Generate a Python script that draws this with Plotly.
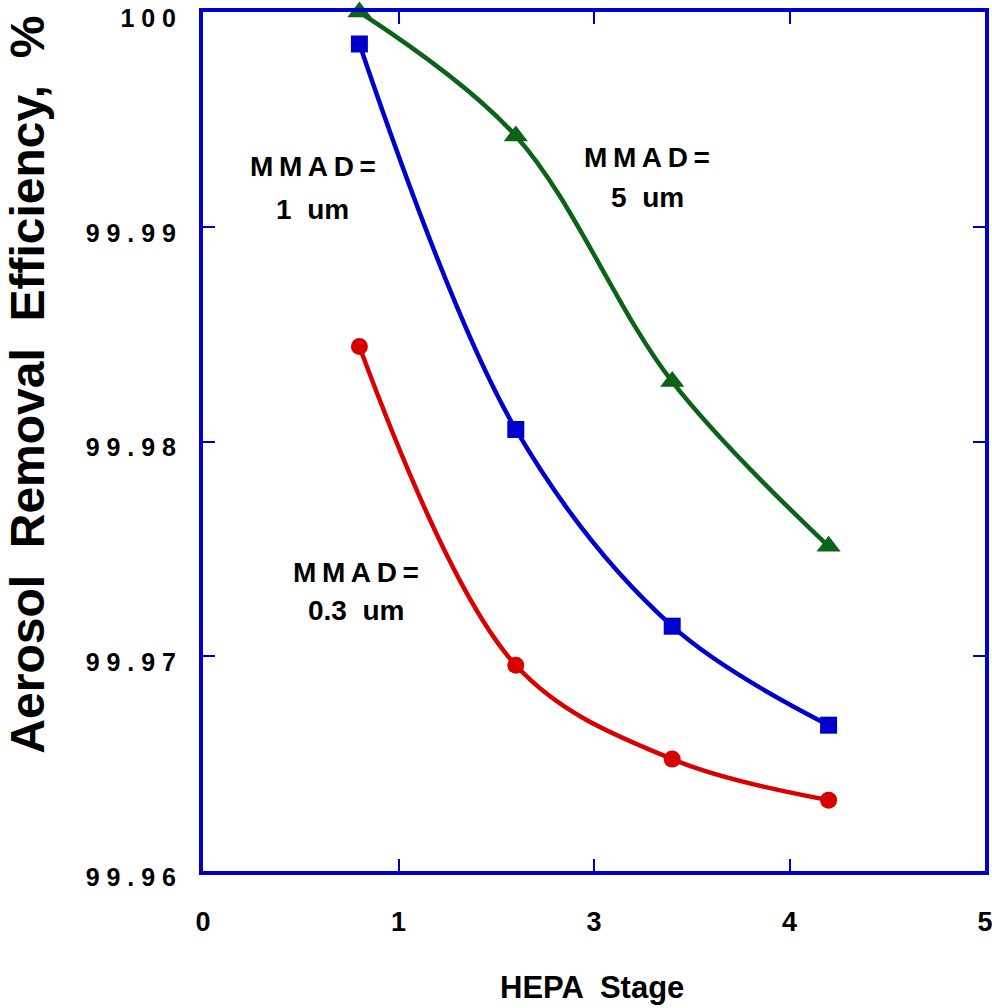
import plotly.graph_objects as go

# ---- data ----
stage_pos = [0.8, 1.6, 2.4, 3.2]
x_tickvals = [0, 1, 2, 3, 4]
x_ticktext = ["0", "1", "3", "4", "5"]
y_tickvals = [99.96, 99.97, 99.98, 99.99, 100.0]
y_ticktext = ["9 9 . 9 6", "9 9 . 9 7", "9 9 . 9 8", "9 9 . 9 9", "1 0 0"]

eff_5um = [100.0, 99.99423, 99.98279, 99.97512]
eff_1um = [99.99851, 99.98056, 99.97140, 99.96679]
eff_03um = [99.98442, 99.96958, 99.96521, 99.96330]

T = "\u2009"
mmad = T.join("MMAD=")
labels = [
    (mmad, 0.562, 99.99279),
    ("1  um", 0.562, 99.99079),
    (mmad, 2.273, 99.99321),
    ("5  um", 2.273, 99.99135),
    (mmad, 0.782, 99.97391),
    ("0.3  um", 0.782, 99.97214),
]

BLUE = "#0000CC"
GREEN = "#0C6318"
RED = "#D80000"
FONT = "Liberation Sans, Arial, sans-serif"

fig = go.Figure()
series = [
    (eff_5um, GREEN, "triangle-up", 21),
    (eff_1um, BLUE, "square", 17),
    (eff_03um, RED, "circle", 17),
]
for ys, col, sym, sz in series:
    fig.add_trace(go.Scatter(
        x=stage_pos, y=ys, mode="lines+markers",
        line=dict(color=col, width=4.5, shape="spline", smoothing=1),
        marker=dict(symbol=sym, size=sz, color=col),
        cliponaxis=False, showlegend=False,
    ))

for txt, x, y in labels:
    fig.add_annotation(x=x, y=y, xref="x", yref="y", text=f"<b>{txt}</b>",
                       showarrow=False, font=dict(family=FONT, size=28, color="black"))

fig.add_annotation(xref="paper", yref="paper", x=-0.224, y=0.566, xanchor="center", yanchor="middle",
                   text="<b>Aerosol  Removal  Efficiency,  %</b>", textangle=-90, showarrow=False,
                   font=dict(family=FONT, size=48, color="black"))
fig.add_annotation(xref="paper", yref="paper", x=0.497, y=-0.136, xanchor="center", yanchor="middle",
                   text="<b>HEPA  Stage</b>", showarrow=False,
                   font=dict(family=FONT, size=31, color="black"))

fig.update_xaxes(range=[0, 4], tickvals=x_tickvals, ticktext=x_ticktext,
                 ticks="inside", ticklen=12, tickwidth=2, tickcolor=BLUE,
                 showline=True, linewidth=4, linecolor=BLUE, mirror="ticks",
                 showgrid=False, zeroline=False, ticklabelstandoff=24, automargin=False,
                 ticklabeloverflow="allow",
                 tickfont=dict(family=FONT, size=27, color="black", weight="bold"))
fig.update_yaxes(range=[99.96, 100.0], tickvals=y_tickvals, ticktext=y_ticktext,
                 ticks="inside", ticklen=12, tickwidth=2, tickcolor=BLUE,
                 showline=True, linewidth=4, linecolor=BLUE, mirror="ticks",
                 showgrid=False, zeroline=False, ticklabelstandoff=18, automargin=False,
                 ticklabeloverflow="allow", ticklabelshift=6,
                 tickfont=dict(family=FONT, size=25, color="black", weight="bold"))

fig.update_layout(width=992, height=1008, margin=dict(l=203, r=7, t=12, b=137),
                  plot_bgcolor="white", paper_bgcolor="white")
fig.write_html("out.html")
